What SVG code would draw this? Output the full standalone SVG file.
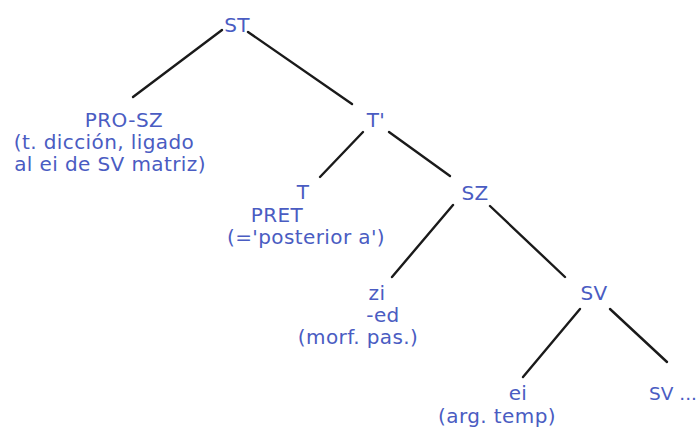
<svg xmlns="http://www.w3.org/2000/svg" width="700" height="430" viewBox="0 0 700 430">
<style>
text{font-family:"DejaVu Sans","Open Sans",sans-serif;font-size:20px;letter-spacing:0.4px;fill:#4a5cc2;text-anchor:middle}
line{stroke:#1a1a1a;stroke-width:2.4;stroke-linecap:round}
</style>
<rect width="700" height="430" fill="#ffffff"/>
<g id="connectors">
<line x1="222" y1="30" x2="133" y2="97"/>
<line x1="248" y1="32" x2="352" y2="104"/>
<line x1="363" y1="132" x2="320" y2="177"/>
<line x1="389" y1="132" x2="450" y2="176"/>
<line x1="453" y1="205" x2="392" y2="277"/>
<line x1="490" y1="206" x2="565" y2="277"/>
<line x1="580" y1="309" x2="523" y2="377"/>
<line x1="610" y1="309" x2="667" y2="362"/>
</g>
<g id="ST"><text x="237" y="32">ST</text></g>
<g id="PRO-SZ">
<text x="124" y="127">PRO-SZ</text>
<text x="104" y="149">(t. dicción, ligado</text>
<text x="110" y="171">al ei de SV matriz)</text>
</g>
<g id="Tbar"><text x="376" y="127">T'</text></g>
<g id="T">
<text x="303" y="199">T</text>
<text x="277" y="222">PRET</text>
<text x="306" y="244">(='posterior a')</text>
</g>
<g id="SZ"><text x="475" y="200">SZ</text></g>
<g id="zi">
<text x="377" y="300">zi</text>
<text x="383" y="322">-ed</text>
<text x="358" y="344">(morf. pas.)</text>
</g>
<g id="SV"><text x="594" y="300">SV</text></g>
<g id="ei">
<text x="518" y="400">ei</text>
<text x="497" y="423">(arg. temp)</text>
</g>
<g id="SV2"><text x="649" y="400" style="text-anchor:start;letter-spacing:0;font-size:18.5px">SV ...</text></g>
</svg>
